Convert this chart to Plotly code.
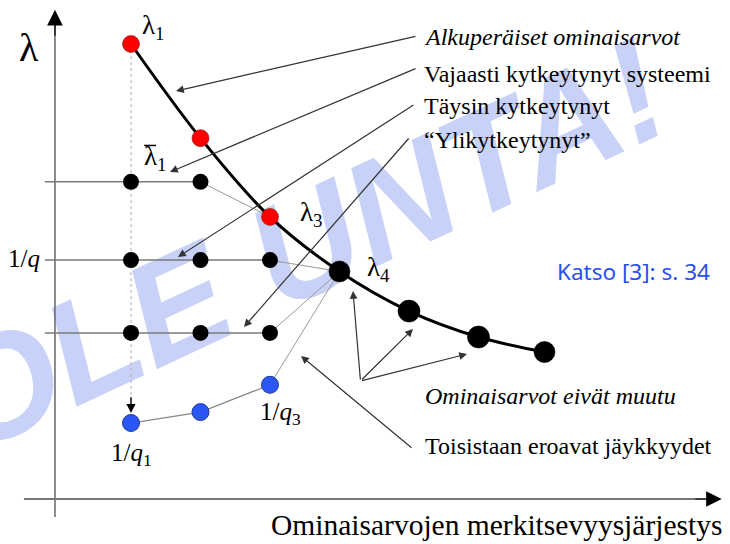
import plotly.graph_objects as go

# ---------------- data (diagram units: x = eigenvalue order, y = lambda) ----------------
orig_order = [1, 2, 3, 4, 5, 6, 6.95]
orig_lambda = [10.0, 7.93, 6.2, 5.0, 4.13, 3.56, 3.23]
orig_colors = ["#ff0000", "#ff0000", "#ff0000", "#000000", "#000000", "#000000", "#000000"]
orig_edge = ["#8a1a1a", "#8a1a1a", "#8a1a1a", "#000000", "#000000", "#000000", "#000000"]
orig_sizes = [17, 17, 17, 21, 22, 22, 21]

weak_order = [1, 2]
weak_lambda = [6.97, 6.97]          # "Vajaasti kytkeytynyt systeemi" -> joins lambda_3
full_order = [1, 2, 3]
full_lambda = [5.25, 5.25, 5.25]    # "Täysin kytkeytynyt" (1/q) -> joins lambda_4
over_order = [1, 2, 3]
over_lambda = [3.65, 3.65, 3.65]    # "Ylikytkeytynyt" -> joins lambda_4
stiff_order = [1, 2, 3]
stiff_lambda = [1.67, 1.91, 2.51]   # 1/q_i, different stiffnesses -> joins lambda_4

row_start = -0.24

label_texts = ["<i>Alkuperäiset ominaisarvot</i>", "Vajaasti kytkeytynyt systeemi",
               "Täysin kytkeytynyt", "“Ylikytkeytynyt”",
               "<i>Ominaisarvot eivät muutu</i>", "Toisistaan eroavat jäykkyydet"]
label_x = [5.187, 5.187, 5.187, 5.187, 5.201, 5.201]
label_y = [10.16, 9.33, 8.64, 7.89, 2.26, 1.16]

# arrows: tail (x, y) -> head (x, y)
arrow_tail_x = [5.115, 5.115, 5.086, 5.014, 4.302, 4.302, 4.302, 5.058]
arrow_tail_y = [10.176, 9.473, 8.681, 7.956, 2.593, 2.593, 2.593, 1.099]
arrow_head_x = [1.647, 1.561, 1.676, 2.626, 4.194, 5.058, 5.835, 3.446]
arrow_head_y = [8.967, 7.187, 5.319, 3.780, 4.571, 3.736, 3.187, 3.143]

x_range = [-0.885, 9.619]
y_range = [-0.989, 10.967]
y_axis_x = -0.094
x_axis_from, x_axis_tip = -0.54, 9.50
y_axis_from, y_axis_tip = -0.396, 10.75

SERIF = "Liberation Serif, Times New Roman, serif"

fig = go.Figure()

# axes lines
fig.add_trace(go.Scatter(x=[y_axis_x, y_axis_x], y=[y_axis_from, y_axis_tip - 0.3], mode="lines",
                         line=dict(color="#666666", width=1.5), hoverinfo="skip"))
fig.add_trace(go.Scatter(x=[x_axis_from, x_axis_tip - 0.2], y=[0, 0], mode="lines",
                         line=dict(color="#777777", width=1.8), hoverinfo="skip"))

# dotted vertical from lambda_1 down to 1/q_1
fig.add_trace(go.Scatter(x=[orig_order[0], orig_order[0]], y=[orig_lambda[0], stiff_lambda[0] + 0.35],
                         mode="lines", line=dict(color="#b0b0b0", width=1, dash="dot"), hoverinfo="skip"))

# row lines
target_l3 = (orig_order[2], orig_lambda[2])
target_l4 = (orig_order[3], orig_lambda[3])
for xs, ys, tgt in [(weak_order, weak_lambda, target_l3),
                    (full_order, full_lambda, target_l4),
                    (over_order, over_lambda, target_l4)]:
    fig.add_trace(go.Scatter(x=[row_start] + xs, y=[ys[0]] + ys, mode="lines",
                             line=dict(color="#7a7a7a", width=1.5), hoverinfo="skip"))
    fig.add_trace(go.Scatter(x=[xs[-1], tgt[0]], y=[ys[-1], tgt[1]], mode="lines",
                             line=dict(color="#9a9a9a", width=1), hoverinfo="skip"))
fig.add_trace(go.Scatter(x=stiff_order, y=stiff_lambda, mode="lines",
                         line=dict(color="#8a8a8a", width=1.3), hoverinfo="skip"))
fig.add_trace(go.Scatter(x=[stiff_order[-1], target_l4[0]], y=[stiff_lambda[-1], target_l4[1]], mode="lines",
                         line=dict(color="#9a9a9a", width=1), hoverinfo="skip"))

# main curve
fig.add_trace(go.Scatter(x=orig_order, y=orig_lambda, mode="lines",
                         line=dict(color="#000000", width=3, shape="spline"), hoverinfo="skip"))

# markers
for xs, ys in [(weak_order, weak_lambda), (full_order, full_lambda), (over_order, over_lambda)]:
    fig.add_trace(go.Scatter(x=xs, y=ys, mode="markers",
                             marker=dict(color="#000000", size=16, opacity=1, line=dict(width=0)),
                             hoverinfo="skip"))
fig.add_trace(go.Scatter(x=stiff_order, y=stiff_lambda, mode="markers",
                         marker=dict(color="#2a56f5", size=17, opacity=1, line=dict(color="#23399a", width=1)),
                         hoverinfo="skip"))
fig.add_trace(go.Scatter(x=orig_order, y=orig_lambda, mode="markers",
                         marker=dict(color=orig_colors, size=orig_sizes, opacity=1,
                                     line=dict(color=orig_edge, width=0.6)),
                         hoverinfo="skip"))

ann = []
# axis arrow heads
ann.append(dict(x=y_axis_x, y=y_axis_tip, ax=y_axis_x, ay=y_axis_tip - 0.6, xref="x", yref="y",
                axref="x", ayref="y", text="", showarrow=True, arrowhead=2, arrowsize=2.6,
                arrowwidth=1.2, arrowcolor="#000000"))
ann.append(dict(x=x_axis_tip, y=0, ax=x_axis_tip - 0.4, ay=0, xref="x", yref="y",
                axref="x", ayref="y", text="", showarrow=True, arrowhead=2, arrowsize=2.6,
                arrowwidth=1.2, arrowcolor="#000000"))
# dotted arrow head
ann.append(dict(x=orig_order[0], y=stiff_lambda[0] + 0.22, ax=orig_order[0], ay=stiff_lambda[0] + 0.6,
                xref="x", yref="y", axref="x", ayref="y", text="", showarrow=True, arrowhead=2,
                arrowsize=1.3, arrowwidth=1.4, arrowcolor="#000000"))
# label arrows
for tx, ty, hx, hy in zip(arrow_tail_x, arrow_tail_y, arrow_head_x, arrow_head_y):
    ann.append(dict(x=hx, y=hy, ax=tx, ay=ty, xref="x", yref="y", axref="x", ayref="y", text="",
                    showarrow=True, arrowhead=2, arrowsize=1.3, arrowwidth=1.2, arrowcolor="#333333"))
# label texts
for t, x, y in zip(label_texts, label_x, label_y):
    ann.append(dict(x=x, y=y, xref="x", yref="y", text=t, showarrow=False, xanchor="left",
                    yanchor="middle", font=dict(family=SERIF, size=24, color="#000000")))

# math labels
math = [
    ("λ", -0.468, 9.93, "center", 40),
    ("λ<sub>1</sub>", 1.129, 10.37, "left", 27),
    ("λ<sub>1</sub>", 1.158, 7.50, "left", 27),
    ("λ<sub>3</sub>", 3.403, 6.26, "left", 27),
    ("λ<sub>4</sub>", 4.367, 5.06, "left", 27),
    ("1/<i>q</i>", -0.281, 5.28, "right", 25),
    ("1/<i>q</i><sub>1</sub>", 1.014, 0.97, "center", 25),
    ("1/<i>q</i><sub>3</sub>", 2.827, 1.89, "left", 25),
]
for t, x, y, xa, s in math:
    ann.append(dict(x=x, y=y, xref="x", yref="y", text=t, showarrow=False, xanchor=xa,
                    yanchor="middle", font=dict(family=SERIF, size=s, color="#000000")))

ann.append(dict(x=7.101, y=5.01, xref="x", yref="y", text="Katso [3]: s. 34", showarrow=False,
                xanchor="left", yanchor="middle", font=dict(family="Noto Sans", size=22.5, color="#2850f0")))
ann.append(dict(x=9.532, y=-0.571, xref="x", yref="y", text="Ominaisarvojen merkitsevyysjärjestys",
                showarrow=False, xanchor="right", yanchor="middle",
                font=dict(family=SERIF, size=29.5, color="#000000")))

# overbar of lambda-bar_1
bar_x0, bar_x1, bar_y = 1.19, 1.36, 7.77

# watermark (below traces)
wm_x, wm_y = 3.4, 5.85
shapes = [
    dict(type="rect", xref="x", yref="y", x0=wm_x - 0.05, x1=wm_x + 0.05, y0=wm_y - 0.05,
         y1=wm_y + 0.05, line=dict(width=0), fillcolor="rgba(0,0,0,0)", layer="below",
         label=dict(text="<b><i>OLE UNTA!</i></b>", textangle=-25, textposition="middle center",
                    font=dict(family="Liberation Sans, Arial, sans-serif", size=145, color="#c8d1f7"))),
    dict(type="line", xref="x", yref="y", x0=bar_x0, x1=bar_x1, y0=bar_y, y1=bar_y,
         line=dict(color="#000000", width=1.5), layer="above"),
]

fig.update_layout(
    width=730, height=544, autosize=False,
    margin=dict(l=0, r=0, t=0, b=0, pad=0),
    paper_bgcolor="white", plot_bgcolor="white",
    showlegend=False,
    xaxis=dict(range=x_range, visible=False, fixedrange=True),
    yaxis=dict(range=y_range, visible=False, fixedrange=True),
    annotations=ann, shapes=shapes,
)

fig.write_html("out.html", config={"displayModeBar": False},
               post_script="document.body.style.margin='0px';")
